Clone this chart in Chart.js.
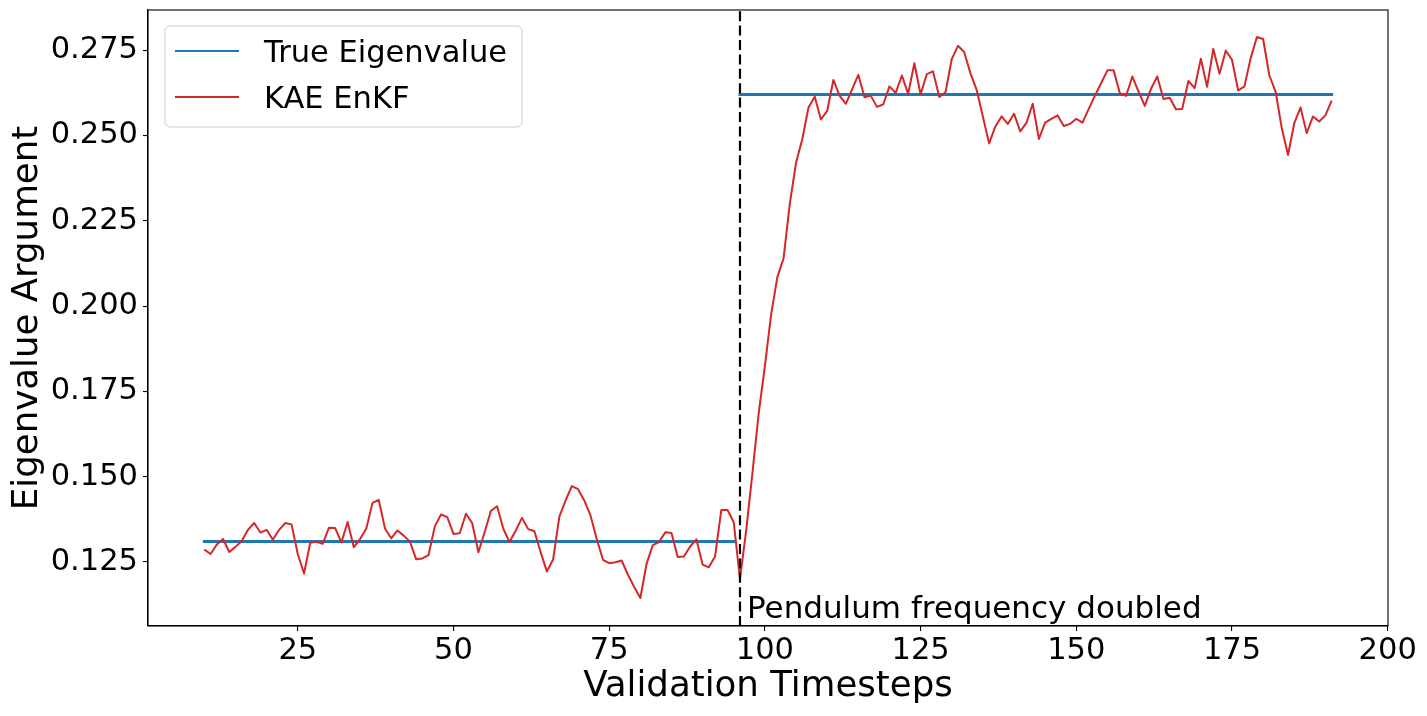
<!DOCTYPE html>
<html>
<head>
<meta charset="utf-8">
<script src="https://cdn.jsdelivr.net/npm/chart.js@4.4.1/dist/chart.umd.min.js"></script>
<style>
  html, body { margin: 0; padding: 0; background: #fff; }
  #wrap { width: 1427px; height: 716px; position: relative; }
</style>
</head>
<body>
<div id="wrap"><canvas id="chart"></canvas></div>
<script>
const TIMESTEPS = [
  10, 11, 12, 13, 14, 15, 16, 17, 18, 19, 20, 21, 22, 23, 24, 25, 26, 27, 28, 29,
  30, 31, 32, 33, 34, 35, 36, 37, 38, 39, 40, 41, 42, 43, 44, 45, 46, 47, 48, 49,
  50, 51, 52, 53, 54, 55, 56, 57, 58, 59, 60, 61, 62, 63, 64, 65, 66, 67, 68, 69,
  70, 71, 72, 73, 74, 75, 76, 77, 78, 79, 80, 81, 82, 83, 84, 85, 86, 87, 88, 89,
  90, 91, 92, 93, 94, 95, 96, 97, 98, 99, 100, 101, 102, 103, 104, 105, 106, 107, 108, 109,
  110, 111, 112, 113, 114, 115, 116, 117, 118, 119, 120, 121, 122, 123, 124, 125, 126, 127, 128, 129,
  130, 131, 132, 133, 134, 135, 136, 137, 138, 139, 140, 141, 142, 143, 144, 145, 146, 147, 148, 149,
  150, 151, 152, 153, 154, 155, 156, 157, 158, 159, 160, 161, 162, 163, 164, 165, 166, 167, 168, 169,
  170, 171, 172, 173, 174, 175, 176, 177, 178, 179, 180, 181, 182, 183, 184, 185, 186, 187, 188, 189,
  190, 191
];

// KAE EnKF estimate, one value per timestep above
const KAE_ENKF = [
  0.1286, 0.1273, 0.1301, 0.1317, 0.1279, 0.1294, 0.1311, 0.1344, 0.1364, 0.1336,
  0.1344, 0.1315, 0.1344, 0.1364, 0.1360, 0.1273, 0.1216, 0.1306, 0.1309, 0.1303,
  0.1350, 0.1349, 0.1307, 0.1367, 0.1293, 0.1317, 0.1348, 0.1423, 0.1432, 0.1348,
  0.1319, 0.1342, 0.1327, 0.1310, 0.1258, 0.1260, 0.1270, 0.1354, 0.1389, 0.1381,
  0.1332, 0.1334, 0.1391, 0.1364, 0.1278, 0.1337, 0.1399, 0.1413, 0.1347, 0.1308,
  0.1342, 0.1379, 0.1346, 0.1340, 0.1278, 0.1222, 0.1257, 0.1383, 0.1430, 0.1472,
  0.1463, 0.1430, 0.1386, 0.1317, 0.1256, 0.1246, 0.1249, 0.1254, 0.1213, 0.1177,
  0.1144, 0.1244, 0.1299, 0.1308, 0.1337, 0.1335, 0.1264, 0.1266, 0.1295, 0.1316,
  0.1242, 0.1234, 0.1266, 0.1402, 0.1402, 0.1366, 0.1200, 0.1342, 0.1510, 0.1685,
  0.1824, 0.1975, 0.2085, 0.2140, 0.2300, 0.2420, 0.2489, 0.2582, 0.2614, 0.2547,
  0.2572, 0.2663, 0.2617, 0.2593, 0.2635, 0.2678, 0.2612, 0.2617, 0.2584, 0.2591,
  0.2644, 0.2625, 0.2676, 0.2622, 0.2712, 0.2621, 0.2680, 0.2688, 0.2613, 0.2627,
  0.2724, 0.2763, 0.2745, 0.2683, 0.2634, 0.2556, 0.2477, 0.2526, 0.2556, 0.2534,
  0.2564, 0.2512, 0.2537, 0.2593, 0.2490, 0.2538, 0.2549, 0.2559, 0.2528, 0.2534,
  0.2549, 0.2538, 0.2578, 0.2617, 0.2654, 0.2691, 0.2691, 0.2624, 0.2616, 0.2673,
  0.2629, 0.2587, 0.2637, 0.2673, 0.2607, 0.2611, 0.2577, 0.2578, 0.2660, 0.2639,
  0.2725, 0.2643, 0.2754, 0.2681, 0.2749, 0.2722, 0.2632, 0.2644, 0.2727, 0.2789,
  0.2783, 0.2676, 0.2629, 0.2521, 0.2443, 0.2536, 0.2582, 0.2507, 0.2556, 0.2541,
  0.2559, 0.2602
];

// true eigenvalue argument: before and after the frequency change
const TRUE_STEPS = [10, 95, 96, 191];
const TRUE_VALUES = [0.131, 0.131, 0.262, 0.262];

const CHANGE_STEP = 96;
const CHANGE_LABEL = "Pendulum frequency doubled";

const X_TICKS = [25, 50, 75, 100, 125, 150, 175, 200];
const Y_TICKS = [0.125, 0.150, 0.175, 0.200, 0.225, 0.250, 0.275];

const FONT = "'DejaVu Sans', sans-serif";

function trueSeries() {
  const pts = [];
  for (let i = 0; i < TRUE_STEPS.length; i++) {
    pts.push({ x: TRUE_STEPS[i], y: TRUE_VALUES[i] });
    // break the line where the value jumps
    if (i < TRUE_STEPS.length - 1 && TRUE_VALUES[i + 1] !== TRUE_VALUES[i]) {
      pts.push({ x: (TRUE_STEPS[i] + TRUE_STEPS[i + 1]) / 2, y: null });
    }
  }
  return pts;
}

const overlay = {
  id: "overlay",
  afterDatasetsDraw(chart) {
    const { ctx, chartArea: a, scales: { x } } = chart;
    const px = x.getPixelForValue(CHANGE_STEP);

    ctx.save();
    ctx.strokeStyle = "#000";
    ctx.lineWidth = 2.2;
    ctx.setLineDash([10, 4.4]);
    ctx.beginPath();
    ctx.moveTo(px, a.bottom);
    ctx.lineTo(px, a.top);
    ctx.stroke();
    ctx.setLineDash([]);

    ctx.fillStyle = "#000";
    ctx.font = `31px ${FONT}`;
    ctx.textAlign = "left";
    ctx.textBaseline = "alphabetic";
    ctx.fillText(CHANGE_LABEL, px + 7, a.bottom - 8);

    // axes frame
    ctx.lineWidth = 1.1;
    ctx.strokeRect(a.left, a.top, a.width, a.height);

    // legend
    const bx = a.left + 17, by = a.top + 16, bw = 357, bh = 101, r = 5;
    ctx.beginPath();
    ctx.moveTo(bx + r, by);
    ctx.arcTo(bx + bw, by, bx + bw, by + bh, r);
    ctx.arcTo(bx + bw, by + bh, bx, by + bh, r);
    ctx.arcTo(bx, by + bh, bx, by, r);
    ctx.arcTo(bx, by, bx + bw, by, r);
    ctx.closePath();
    ctx.fillStyle = "rgba(255,255,255,0.8)";
    ctx.fill();
    ctx.strokeStyle = "#cccccc";
    ctx.lineWidth = 1;
    ctx.stroke();

    ctx.font = `30.5px ${FONT}`;
    chart.data.datasets.forEach((ds, i) => {
      const cy = by + 25 + i * 46;
      ctx.strokeStyle = ds.borderColor;
      ctx.lineWidth = 2;
      ctx.beginPath();
      ctx.moveTo(bx + 10, cy);
      ctx.lineTo(bx + 74, cy);
      ctx.stroke();
      ctx.fillStyle = "#000";
      ctx.fillText(ds.label, bx + 99, cy + 11);
    });
    ctx.restore();
  }
};

new Chart(document.getElementById("chart"), {
  type: "line",
  data: {
    datasets: [
      {
        label: "True Eigenvalue",
        data: trueSeries(),
        borderColor: "#1f77b4",
        borderWidth: 3,
        borderCapStyle: "square",
        pointRadius: 0,
        spanGaps: false,
        order: 2,
      },
      {
        label: "KAE EnKF",
        data: TIMESTEPS.map((t, i) => ({ x: t, y: KAE_ENKF[i] })),
        borderColor: "#d62728",
        borderWidth: 2,
        borderJoinStyle: "round",
        pointRadius: 0,
        tension: 0,
        order: 1,
      }
    ]
  },
  options: {
    responsive: true,
    maintainAspectRatio: false,
    animation: false,
    events: [],
    layout: { padding: { top: 10, right: 39, left: 0, bottom: 0 } },
    plugins: { legend: { display: false }, tooltip: { enabled: false } },
    scales: {
      x: {
        type: "linear",
        min: 0.95,
        max: 200.05,
        afterBuildTicks(scale) { scale.ticks = X_TICKS.map(v => ({ value: v })); },
        afterFit(scale) {
          scale.height = 90;
          scale.paddingLeft = 0;
          scale.paddingRight = 0;
        },
        grid: { display: true, drawOnChartArea: false, drawTicks: true, tickLength: 5, color: "#000", lineWidth: 1.1 },
        border: { display: true, color: "#000", width: 1.1 },
        ticks: {
          font: { family: FONT, size: 30.5 },
          color: "#000",
          padding: 2,
          maxRotation: 0,
          autoSkip: false,
        },
        title: {
          display: true,
          text: "Validation Timesteps",
          font: { family: FONT, size: 35.6 },
          color: "#000",
          padding: { top: 0, bottom: 8 },
        }
      },
      y: {
        type: "linear",
        min: 0.1062,
        max: 0.2868,
        afterBuildTicks(scale) { scale.ticks = Y_TICKS.map(v => ({ value: v })); },
        afterFit(scale) {
          scale.width = 148;
          scale.paddingTop = 0;
          scale.paddingBottom = 0;
        },
        grid: { display: true, drawOnChartArea: false, drawTicks: true, tickLength: 5, color: "#000", lineWidth: 1.1 },
        border: { display: true, color: "#000", width: 1.1 },
        ticks: {
          font: { family: FONT, size: 30.5 },
          color: "#000",
          padding: 5,
          autoSkip: false,
          callback: v => Number(v).toFixed(3),
        },
        title: {
          display: true,
          text: "Eigenvalue Argument",
          font: { family: FONT, size: 35.6 },
          color: "#000",
          padding: { top: 6, bottom: 0 },
        }
      }
    }
  },
  plugins: [overlay]
});
</script>
</body>
</html>
